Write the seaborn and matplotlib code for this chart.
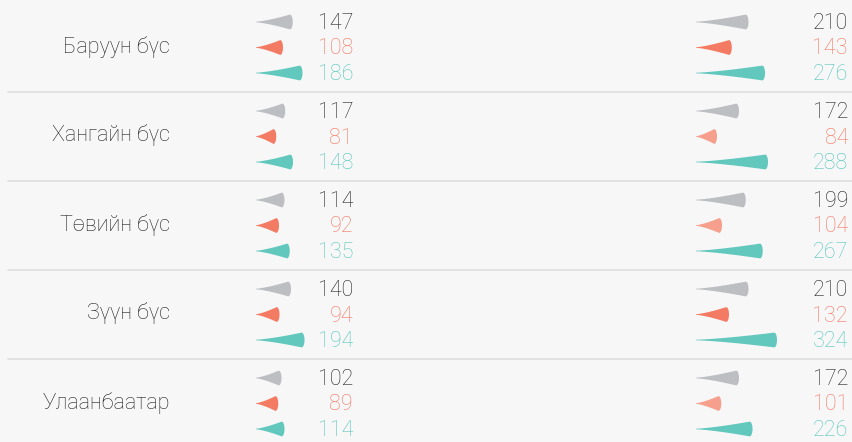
import matplotlib
matplotlib.use("Agg")
import matplotlib.pyplot as plt
import numpy as np
import seaborn as sns

# Regions and the two groups of three figures per region
regions = ["Баруун бүс", "Хангайн бүс", "Төвийн бүс", "Зүүн бүс", "Улаанбаатар"]

left_gray = [147, 117, 114, 140, 102]
left_red = [108, 81, 92, 94, 89]
left_teal = [186, 148, 135, 194, 114]

right_gray = [210, 172, 199, 210, 172]
right_red = [143, 84, 104, 132, 101]
right_teal = [276, 288, 267, 324, 226]

# Styling
BG = "#F7F7F7"
GRAY = "#BDBEC2"
RED = "#F47B63"
RED_SOFT = "#F59F8C"
TEAL = "#62C8BE"
TXT = "#222222"
TXT_RED = "#F47560"
TXT_TEAL = "#55C6BC"
# shade of the red wedge in the right-hand group, one per region
right_red_shade = [RED, RED_SOFT, RED_SOFT, RED, RED_SOFT]

sns.set_theme(style="white", rc={"axes.facecolor": BG, "figure.facecolor": BG})
plt.rcParams["font.family"] = ["Roboto", "DejaVu Sans"]

W, H = 852, 442
fig = plt.figure(figsize=(W / 100, H / 100), dpi=100)
fig.patch.set_facecolor(BG)

ROW_TOP, ROW_H, STEP = 3, 89, 25.5
PX_PER_UNIT = 0.25  # wedge length scale (pixels per unit)
FS = 15.5
WEIGHT = "light"


def row_center(i):
    return ROW_TOP + ROW_H * (i + 0.5)


base = fig.add_axes([0, 0, 1, 1])
base.set_xlim(0, W)
base.set_ylim(H, 0)
base.axis("off")


def value_axes(x0, x1):
    ax = fig.add_axes([x0 / W, 0, (x1 - x0) / W, 1])
    ax.set_xlim(0, (x1 - x0) / PX_PER_UNIT)
    ax.set_ylim(H, 0)
    ax.axis("off")
    ax.patch.set_alpha(0)
    return ax


ax_left = value_axes(256, 360)
ax_right = value_axes(696, 852)


def wedge(ax, value, yc, color, half_h=7.4, cap_px=2.8, bend=1.35):
    """Tapered wedge: thin tip at zero, slightly concave sides, rounded end at `value`."""
    rx = cap_px / PX_PER_UNIT
    cx = value - rx
    f = np.linspace(0, 1, 30)
    side_x = f * cx
    side_h = 0.3 + (half_h - 0.3) * f ** bend
    t = np.linspace(-np.pi / 2, np.pi / 2, 40)
    xs = np.concatenate([side_x, cx + rx * np.cos(t), side_x[::-1]])
    ys = np.concatenate([yc - side_h, yc + half_h * np.sin(t), (yc + side_h)[::-1]])
    ax.fill(xs, ys, color=color, lw=0, antialiased=True)


groups = [
    (ax_left, 353, left_gray, left_red, left_teal, [RED] * len(regions)),
    (ax_right, 848, right_gray, right_red, right_teal, right_red_shade),
]

for i, name in enumerate(regions):
    yc = row_center(i)
    base.text(170, yc - 1, name, ha="right", va="center", fontsize=FS,
              fontweight=WEIGHT, color=TXT)
    if i < len(regions) - 1:
        base.plot([8, W], [ROW_TOP + ROW_H * (i + 1)] * 2, color="#DEDEDE", lw=1.2)
    for ax, tx, g, r, t, shades in groups:
        items = [(g[i], GRAY, TXT), (r[i], shades[i], TXT_RED), (t[i], TEAL, TXT_TEAL)]
        for k, (val, col, tcol) in enumerate(items):
            y = yc + (k - 1) * STEP
            wedge(ax, val, y, col)
            base.text(tx, y + 1.5, f"{val}", ha="right", va="center", fontsize=FS,
                      fontweight=WEIGHT, color=tcol)

fig.savefig("out.png", dpi=100, facecolor=BG)
